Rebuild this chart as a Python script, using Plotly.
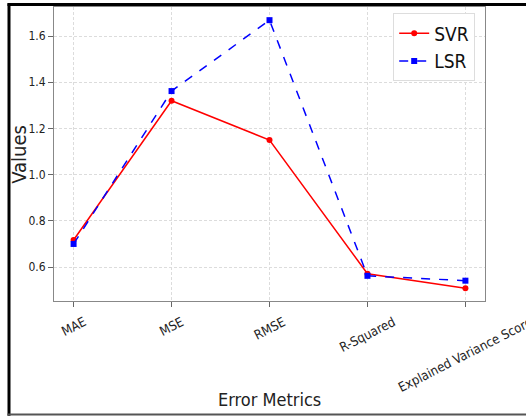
import plotly.graph_objects as go

categories = ["MAE", "MSE", "RMSE", "R-Squared", "Explained Variance Score"]
svr_values = [0.717, 1.32, 1.15, 0.571, 0.508]
lsr_values = [0.70, 1.362, 1.669, 0.562, 0.541]
y_ticks = [0.6, 0.8, 1.0, 1.2, 1.4, 1.6]
y_tick_labels = ["0.6", "0.8", "1.0", "1.2", "1.4", "1.6"]

FONT = "DejaVu Sans Condensed, DejaVu Sans, sans-serif"
x_idx = list(range(len(categories)))

fig = go.Figure()
fig.add_trace(go.Scatter(
    x=x_idx, y=svr_values, name="SVR", mode="lines+markers",
    line=dict(color="#ff0000", width=1.5),
    marker=dict(symbol="circle", size=6, color="#ff0000"),
))
fig.add_trace(go.Scatter(
    x=x_idx, y=lsr_values, name="LSR", mode="lines+markers",
    line=dict(color="#0000ff", width=1.5, dash="dash"),
    marker=dict(symbol="square", size=6, color="#0000ff"),
))

# category tick labels, centred under each tick like the original
for i, c in enumerate(categories):
    fig.add_annotation(
        x=i, xref="x", y=-0.035, yref="paper", text=c, showarrow=False,
        textangle=-27, xanchor="center", yanchor="top",
        font=dict(family=FONT, size=13, color="#222"),
    )

# axis titles
fig.add_annotation(x=-0.082, xref="paper", y=0.5, yref="paper", text="Values",
                   showarrow=False, xanchor="center", yanchor="middle", textangle=-90,
                   font=dict(family=FONT, size=20, color="#222"))
fig.add_annotation(x=0.5, xref="paper", y=-0.378, yref="paper", text="Error Metrics",
                   showarrow=False, xanchor="center", yanchor="bottom",
                   font=dict(family=FONT, size=18, color="#222"))

# outer frame (left, top thick black; bottom gray)
fig.add_shape(type="line", xref="paper", yref="paper", x0=-0.1044, x1=-0.1044,
              y0=-0.39, y1=1.012, line=dict(color="black", width=3))
fig.add_shape(type="line", xref="paper", yref="paper", x0=-0.108, x1=1.1,
              y0=1.0085, y1=1.0085, line=dict(color="black", width=3))
fig.add_shape(type="line", xref="paper", yref="paper", x0=-0.108, x1=1.1,
              y0=-0.386, y1=-0.386, line=dict(color="#555", width=2))

grid = dict(showgrid=True, gridcolor="#dcdcdc", griddash="3px,2px", gridwidth=1)
fig.update_xaxes(
    range=[-0.2, 4.2], tickvals=x_idx, showticklabels=False,
    ticks="outside", ticklen=5, tickcolor="#666",
    showline=True, linecolor="#888", linewidth=1, mirror=True, zeroline=False, **grid,
)
fig.update_yaxes(
    range=[0.453, 1.726], tickvals=y_ticks, ticktext=y_tick_labels,
    ticks="outside", ticklen=5, tickcolor="#666",
    tickfont=dict(family=FONT, size=12, color="#222"),
    showline=True, linecolor="#888", linewidth=1, mirror=True, zeroline=False, **grid,
)

fig.update_layout(
    width=526, height=416,
    margin=dict(l=54, r=41, t=7, b=115),
    plot_bgcolor="white", paper_bgcolor="white",
    showlegend=True,
    legend=dict(
        x=0.787, y=0.978, xanchor="left", yanchor="top",
        bgcolor="white", bordercolor="#dddddd", borderwidth=1,
        font=dict(family=FONT, size=19, color="#111"),
        itemwidth=30, tracegroupgap=2,
    ),
    font=dict(family=FONT),
)

fig.write_html("out.html", config={"displayModeBar": False},
               post_script="document.body.style.margin='0px';")
